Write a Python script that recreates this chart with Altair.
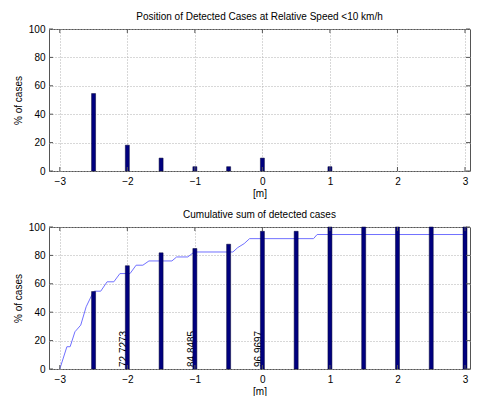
import altair as alt
import pandas as pd

# ---- data ----
pos_x = [-2.5, -2.0, -1.5, -1.0, -0.5, 0.0, 1.0]
pos_pct = [54.55, 18.18, 9.09, 3.03, 3.03, 9.09, 3.03]

cum_x = [-2.5, -2.0, -1.5, -1.0, -0.5, 0.0, 0.5, 1.0, 1.5, 2.0, 2.5, 3.0]
cum_pct = [54.55, 72.73, 81.82, 84.85, 87.88, 96.97, 96.97, 100, 100, 100, 100, 100]

line_x = [-3.0, -2.895, -2.847, -2.776, -2.69, -2.61, -2.527, -2.49, -2.394, -2.30, -2.20,
          -2.11, -1.96, -1.87, -1.77, -1.68, -1.34, -1.27, -1.105, -1.01, -0.437, -0.365,
          -0.27, -0.19, 0.757, 0.81, 3.0]
line_y = [0.0, 15.7, 15.7, 26.2, 30.9, 43.8, 52.0, 54.8, 54.8, 61.4, 61.4,
          67.2, 67.2, 73.1, 73.1, 76.1, 76.1, 78.9, 78.9, 82.4, 82.4, 85.5,
          88.3, 91.8, 91.8, 94.7, 94.7]

label_x = [-2.0, -1.0, 0.0]
label_txt = ["72.7273", "84.8485", "96.9697"]

x_ticks = [-3, -2, -1, 0, 1, 2, 3]
y_ticks = [0, 20, 40, 60, 80, 100]

W, H = 421, 142
FONT = "Liberation Sans"
BAR = "#00007f"
XDOM = [-3.086, 3.0]

xs = alt.Scale(domain=XDOM, nice=False, zero=False)
ys = alt.Scale(domain=[0, 100], nice=False)

XAX = alt.Axis(values=x_ticks, title="[m]", grid=True, tickSize=0, labelPadding=5,
               titlePadding=2, domain=False, labelFlush=False, labelOverlap=False,
               format="d")
YAX = alt.Axis(values=y_ticks, title="% of cases", grid=True, tickSize=0, labelPadding=4,
               titlePadding=5, domain=False, labelOverlap=False, format="d")


def X(field):
    return alt.X(field, scale=xs, axis=XAX)


def Y(field):
    return alt.Y(field, scale=ys, axis=YAX)


def tick_layers():
    xt = pd.DataFrame({"t": x_ticks})
    yt = pd.DataFrame({"t": y_ticks})
    c = "#555555"
    return [
        alt.Chart(xt).mark_rule(color=c).encode(x=X("t:Q"), y=alt.value(H), y2=alt.value(H - 4)),
        alt.Chart(xt).mark_rule(color=c).encode(x=X("t:Q"), y=alt.value(0), y2=alt.value(4)),
        alt.Chart(yt).mark_rule(color=c).encode(y=Y("t:Q"), x=alt.value(0), x2=alt.value(4)),
        alt.Chart(yt).mark_rule(color=c).encode(y=Y("t:Q"), x=alt.value(W), x2=alt.value(W - 4)),
    ]


top_df = pd.DataFrame({"x": pos_x, "y": pos_pct})
top_bars = alt.Chart(top_df).mark_bar(size=4, color=BAR, stroke="#000033", strokeWidth=0.5).encode(
    x=X("x:Q"), y=Y("y:Q"),
)
top = alt.layer(top_bars, *tick_layers()).properties(
    width=W, height=H,
    title=alt.TitleParams("Position of Detected Cases at Relative Speed <10 km/h", offset=2),
)

line_df = pd.DataFrame({"x": line_x, "y": line_y, "o": list(range(len(line_x)))})
cum_df = pd.DataFrame({"x": cum_x, "y": cum_pct})
lab_df = pd.DataFrame({"x": label_x, "t": label_txt, "y0": [0.0] * len(label_x)})

cum_line = alt.Chart(line_df).mark_line(color="#7070ff", strokeWidth=1).encode(
    x=X("x:Q"), y=Y("y:Q"), order="o:Q",
)
cum_text = alt.Chart(lab_df).mark_text(angle=270, align="left", baseline="alphabetic", dx=2,
                                       fontSize=10, font=FONT, color="black").encode(
    x=X("x:Q"), y=Y("y0:Q"), text="t:N",
)
cum_bars = alt.Chart(cum_df).mark_bar(size=4, color=BAR, stroke="#000033", strokeWidth=0.5).encode(
    x=X("x:Q"), y=Y("y:Q"),
)
bottom = alt.layer(cum_line, cum_text, cum_bars, *tick_layers()).properties(
    width=W, height=H,
    title=alt.TitleParams("Cumulative sum of detected cases", offset=2),
)

chart = alt.vconcat(top, bottom, spacing=10).properties(
    padding={"left": 4, "top": 3, "right": 0, "bottom": 0},
).configure_view(stroke="#555555", strokeWidth=1).configure_axis(
    labelFont=FONT, labelFontSize=10, labelColor="black",
    titleFont=FONT, titleFontSize=10, titleFontWeight="normal", titleColor="black",
    gridColor="#b0b0b0", gridDash=[1, 2], gridWidth=1,
).configure_title(font=FONT, fontSize=10, fontWeight="normal", color="black")

chart.save("out.html", embed_options={"renderer": "svg", "actions": False})
